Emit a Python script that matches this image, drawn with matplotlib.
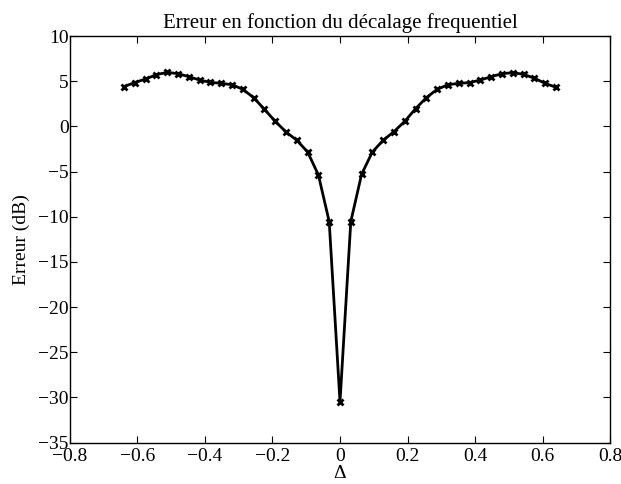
import matplotlib
matplotlib.use("Agg")
import matplotlib.pyplot as plt

# frequency offset values
delta = [-0.640, -0.608, -0.576, -0.544, -0.512, -0.480, -0.448, -0.416, -0.384, -0.352,
         -0.320, -0.288, -0.256, -0.224, -0.192, -0.160, -0.128, -0.096, -0.064, -0.032,
         0.000,
         0.032, 0.064, 0.096, 0.128, 0.160, 0.192, 0.224, 0.256, 0.288, 0.320,
         0.352, 0.384, 0.416, 0.448, 0.480, 0.512, 0.544, 0.576, 0.608, 0.640]

# error in dB
erreur = [4.40, 4.85, 5.24, 5.72, 5.98, 5.83, 5.50, 5.13, 4.87, 4.76,
          4.61, 4.10, 3.18, 1.89, 0.56, -0.62, -1.54, -2.83, -5.38, -10.54,
          -30.5,
          -10.54, -5.30, -2.83, -1.54, -0.58, 0.56, 1.96, 3.18, 4.10, 4.61,
          4.76, 4.84, 5.13, 5.50, 5.83, 5.94, 5.76, 5.32, 4.76, 4.32]

xticks = [-0.8, -0.6, -0.4, -0.2, 0, 0.2, 0.4, 0.6, 0.8]
xticklabels = ["\u22120.8", "\u22120.6", "\u22120.4", "\u22120.2", "0", "0.2", "0.4", "0.6", "0.8"]
yticks = [-35, -30, -25, -20, -15, -10, -5, 0, 5, 10]

plt.rcParams['font.family'] = ['Liberation Serif', 'DejaVu Serif']
plt.rcParams['font.size'] = 14

fig = plt.figure(figsize=(6.21, 4.84), dpi=100)
ax = fig.add_axes([0.1127, 0.0857, 0.8696, 0.8399])

ax.plot(delta, erreur, 'k-', linewidth=2, marker='x', markersize=5, markeredgewidth=2)

ax.set_xlim(-0.8, 0.8)
ax.set_ylim(-35, 10)
ax.set_xticks(xticks)
ax.set_xticklabels(xticklabels)
ax.set_yticks(yticks)
ax.set_yticklabels([("\u2212" + str(-v)) if v < 0 else str(v) for v in yticks])
ax.tick_params(direction='in', top=True, right=True, length=5, width=0.8)
ax.tick_params(axis='x', pad=4)
ax.tick_params(axis='y', pad=1)
for s in ax.spines.values():
    s.set_linewidth(1.0)

ax.set_xlabel("\u0394", labelpad=0)
ax.set_ylabel("Erreur (dB)", labelpad=6)
ax.set_title("Erreur en fonction du d\u00e9calage frequentiel", fontsize=15, pad=6)

fig.savefig("out.png", dpi=100)
